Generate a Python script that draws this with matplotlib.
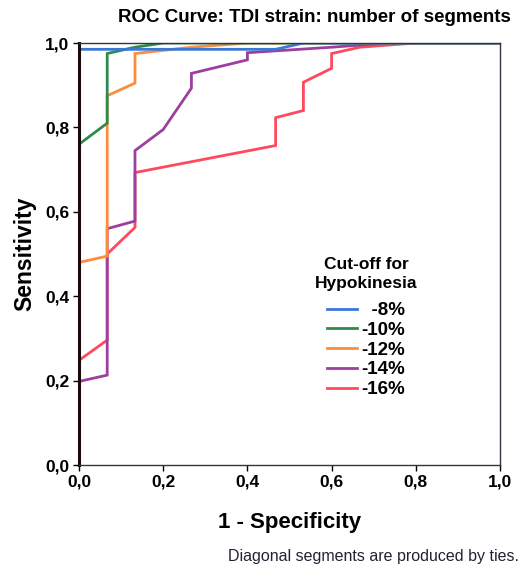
import matplotlib.pyplot as plt
from matplotlib.ticker import FuncFormatter

plt.rcParams['font.family'] = ['Liberation Sans', 'DejaVu Sans']

# ROC points (1 - specificity, sensitivity)
fpr_8 = [0, 0, 0.467, 0.533, 1.0]
tpr_8 = [0, 0.985, 0.985, 1.0, 1.0]

fpr_10 = [0, 0, 0.067, 0.067, 0.133, 0.2, 1.0]
tpr_10 = [0, 0.76, 0.81, 0.975, 0.99, 1.0, 1.0]

fpr_12 = [0, 0, 0.067, 0.067, 0.133, 0.133, 0.267, 0.4, 1.0]
tpr_12 = [0, 0.48, 0.495, 0.875, 0.905, 0.975, 0.99, 1.0, 1.0]

fpr_14 = [0, 0, 0.067, 0.067, 0.133, 0.133, 0.2, 0.267, 0.267, 0.4, 0.4,
          0.6, 0.733, 1.0]
tpr_14 = [0, 0.198, 0.213, 0.56, 0.578, 0.745, 0.795, 0.893, 0.928, 0.96,
          0.977, 0.99, 1.0, 1.0]

fpr_16 = [0, 0, 0.067, 0.067, 0.133, 0.133, 0.467, 0.467, 0.533, 0.533,
          0.6, 0.6, 0.667, 0.8, 1.0]
tpr_16 = [0, 0.248, 0.296, 0.5, 0.563, 0.693, 0.757, 0.823, 0.84, 0.907,
          0.94, 0.975, 0.99, 1.0, 1.0]

series = [
    ('  -8%', fpr_8, tpr_8, '#3a78d8'),
    ('-10%', fpr_10, tpr_10, '#2e8b4a'),
    ('-12%', fpr_12, tpr_12, '#ff8c3a'),
    ('-14%', fpr_14, tpr_14, '#9c3fa0'),
    ('-16%', fpr_16, tpr_16, '#ff4a5e'),
]

fig = plt.figure(figsize=(5.21, 5.67), dpi=100)
ax = fig.add_axes([79 / 521, 1 - 465 / 567, 421 / 521, 422 / 567])

# draw in reverse so the lower curves sit underneath
for label, xs, ys, col in reversed(series):
    ax.plot(xs, ys, color=col, lw=2, label=label, solid_joinstyle='miter')

ax.set_xlim(0, 1)
ax.set_ylim(0, 1)
ticks = [0, 0.2, 0.4, 0.6, 0.8, 1.0]
ax.set_xticks(ticks)
ax.set_yticks(ticks)
fmt = FuncFormatter(lambda v, p: f'{v:.1f}'.replace('.', ','))
ax.xaxis.set_major_formatter(fmt)
ax.yaxis.set_major_formatter(fmt)
ax.tick_params(direction='out', length=4, width=1, labelsize=12.5, pad=3)
for lab in ax.get_xticklabels() + ax.get_yticklabels():
    lab.set_fontweight('bold')

for s in ['top', 'right', 'bottom']:
    ax.spines[s].set_linewidth(1)
    ax.spines[s].set_color('#333344')
ax.spines['left'].set_linewidth(2.2)
ax.spines['left'].set_color('#1a0a0a')

ax.set_xlabel('1 - Specificity', fontsize=16, fontweight='bold', labelpad=16)
ax.set_ylabel('Sensitivity', fontsize=16.5, fontweight='bold', labelpad=6)
fig.text(0.5 + 54 / 521, 1 - 18 / 567, 'ROC Curve: TDI strain: number of segments',
         ha='center', va='center', fontsize=13.5, fontweight='bold')
fig.text(228 / 521, 1 - 557 / 567, 'Diagonal segments are produced by ties.',
         ha='left', va='center', fontsize=11.5, color='#222233')

handles, labels = ax.get_legend_handles_labels()
leg = ax.legend(handles[::-1], labels[::-1], title='Cut-off for\nHypokinesia',
                frameon=False, loc='upper center',
                bbox_to_anchor=((366 - 79) / 421, (465 - 248) / 422),
                handlelength=1.6, handletextpad=0.25, labelspacing=0.14,
                borderpad=0, prop={'weight': 'bold', 'size': 13.5},
                title_fontproperties={'weight': 'bold', 'size': 12.5})
leg._legend_box.align = 'center'
leg.get_title().set_multialignment('center')
leg.get_title().set_linespacing(1.3)
leg._legend_box.sep = 8

fig.savefig('out.png', dpi=100)
